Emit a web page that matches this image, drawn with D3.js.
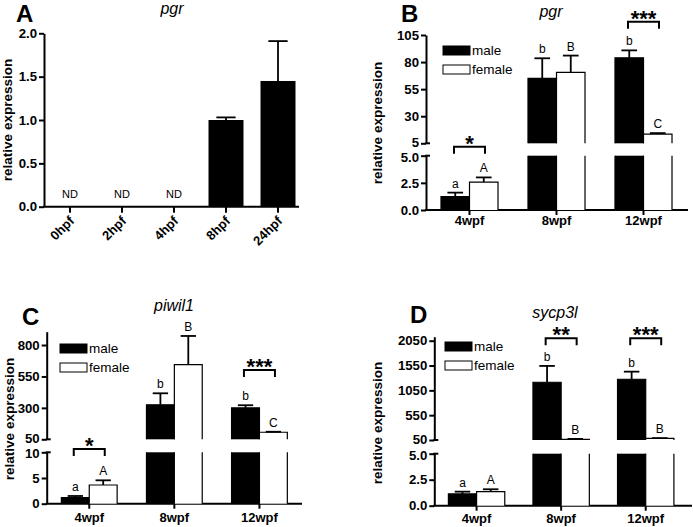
<!DOCTYPE html>
<html><head><meta charset="utf-8">
<script src="https://cdn.jsdelivr.net/npm/d3@7"></script>
<style>
body{margin:0;background:#fff}
text{font-family:"Liberation Sans",Arial,Helvetica,sans-serif;fill:#000}
</style>
</head><body>
<svg id="chart" width="693" height="527"></svg>
<script>
// ---------- DATA ----------
// Panel A (pgr, embryonic stages)
const catsA = ["0hpf","2hpf","4hpf","8hpf","24hpf"];
const valsA = [null,null,null,1.0,1.45];
const semA  = [null,null,null,0.03,0.46];
const ndA   = ["ND","ND","ND","",""];
const ticksA = [0,0.5,1.0,1.5,2.0];

// Shared for B, C, D
const catsWk = ["4wpf","8wpf","12wpf"];
const seriesNames = ["male","female"];

// Panel B (pgr)
const maleB = [1.23,65,84];      const semMaleB = [0.37,18.5,6.8];
const femaleB = [2.56,70.5,13.4]; const semFemaleB = [0.44,15.5,1.0];
const lettersMaleB = ["a","b","b"]; const lettersFemaleB = ["A","B","C"];
const sigCatsB = ["4wpf","12wpf"]; const sigTextB = ["*","***"];
const lowerTicksB = [0,2.5,5]; const upperTicksB = [5,30,55,80,105];

// Panel C (piwil1)
const maleC = [1.17,325,300];    const semMaleC = [0.33,91,21];
const femaleC = [3.64,644,106];  const semFemaleC = [0.91,228,4];
const lettersMaleC = ["a","b","b"]; const lettersFemaleC = ["A","B","C"];
const sigCatsC = ["4wpf","12wpf"]; const sigTextC = ["*","***"];
const lowerTicksC = [0,5,10]; const upperTicksC = [50,300,550,800];

// Panel D (sycp3l)
const maleD = [1.13,1213,1274];  const semMaleD = [0.22,329,153];
const femaleD = [1.35,64,84];    const semFemaleD = [0.23,8,4];
const lettersMaleD = ["a","b","b"]; const lettersFemaleD = ["A","B","B"];
const sigCatsD = ["8wpf","12wpf"]; const sigTextD = ["**","***"];
const lowerTicksD = [0,2.5,5]; const upperTicksD = [50,550,1050,1550,2050];

// ---------- DRAWING ----------
const svg = d3.select("#chart");
const FONT_TICK = 13.2, FONT_CAT = 13, FONT_AX = 13.5;

function styleAxis(sel){
  sel.select(".domain").attr("stroke","#000").attr("stroke-width",2);
  sel.selectAll(".tick line").attr("stroke","#000").attr("stroke-width",2);
  sel.selectAll(".tick text").attr("font-size",FONT_TICK).attr("font-weight","bold")
     .attr("font-family","Liberation Sans, Arial, sans-serif").attr("fill","#000");
}

function panelLetter(txt,x,y){
  svg.append("text").attr("x",x).attr("y",y).attr("font-size",24).attr("font-weight","bold").text(txt);
}
function title(txt,x,y){
  svg.append("text").attr("x",x).attr("y",y).attr("text-anchor","middle").attr("font-size",16)
     .attr("font-style","italic").text(txt);
}
function yTitle(x,y){
  svg.append("text").attr("transform",`translate(${x},${y}) rotate(-90)`).attr("text-anchor","middle")
     .attr("font-size",FONT_AX).attr("font-weight","bold").text("relative expression");
}

// ----- Panel A -----
(function(){
  const L = {x0:44, x1:304, axisEnd:299, yBase:206.7, yTop:33.3};
  const x = d3.scaleBand().domain(catsA).range([L.x0,L.x1]).paddingInner(0.327).paddingOuter(0.1635);
  const y = d3.scaleLinear().domain([0,2]).range([L.yBase,L.yTop]);
  const g = svg.append("g");
  g.append("g").attr("transform",`translate(${L.x0},0)`)
    .call(d3.axisLeft(y).tickValues(ticksA).tickFormat(d3.format(".1f")).tickSize(5).tickPadding(2).tickSizeOuter(0))
    .call(styleAxis);
  // x axis
  g.append("line").attr("x1",L.x0-1).attr("x2",L.axisEnd).attr("y1",L.yBase).attr("y2",L.yBase)
    .attr("stroke","#000").attr("stroke-width",2);
  const rows = catsA.map((c,i)=>({c,v:valsA[i],e:semA[i],nd:ndA[i]}));
  g.selectAll(".xt").data(rows).join("line")
    .attr("x1",d=>x(d.c)+x.bandwidth()/2).attr("x2",d=>x(d.c)+x.bandwidth()/2)
    .attr("y1",L.yBase).attr("y2",L.yBase+6).attr("stroke","#000").attr("stroke-width",2);
  g.selectAll(".xl").data(rows).join("text")
    .attr("transform",d=>`translate(${x(d.c)+x.bandwidth()/2+5},${L.yBase+15}) rotate(-45)`)
    .attr("text-anchor","end").attr("font-size",FONT_CAT).attr("font-weight","bold").text(d=>d.c);
  const bars = rows.filter(d=>d.v!=null);
  g.selectAll(".bar").data(bars).join("rect")
    .attr("x",d=>x(d.c)).attr("width",x.bandwidth())
    .attr("y",d=>y(d.v)).attr("height",d=>L.yBase-y(d.v)).attr("fill","#000");
  const cap = x.bandwidth()*0.55;
  bars.forEach(d=>{
    const cx = x(d.c)+x.bandwidth()/2;
    g.append("line").attr("x1",cx).attr("x2",cx).attr("y1",y(d.v)).attr("y2",y(d.v+d.e)).attr("stroke","#000").attr("stroke-width",1.8);
    g.append("line").attr("x1",cx-cap/2).attr("x2",cx+cap/2).attr("y1",y(d.v+d.e)).attr("y2",y(d.v+d.e)).attr("stroke","#000").attr("stroke-width",1.8);
  });
  g.selectAll(".nd").data(rows.filter(d=>d.nd)).join("text")
    .attr("x",d=>x(d.c)+x.bandwidth()/2).attr("y",L.yBase-9).attr("text-anchor","middle")
    .attr("font-size",11).text(d=>d.nd);
  panelLetter("A",16,22);
  title("pgr",172,14);
  yTitle(11.5,120);
})();

// ----- Broken-axis panels -----
function brokenPanel(L, D){
  const g = svg.append("g");
  const x = d3.scaleBand().domain(catsWk).range([L.x0,L.x1]);
  const xi = d3.scaleBand().domain(seriesNames).range([0,x.bandwidth()]).paddingOuter(L.outerPad);
  const yL = d3.scaleLinear().domain([0,D.lowerMax]).range([L.yBase,L.lowerTopY]);
  const yU = d3.scaleLinear().domain([D.upperMin,D.upperMax]).range([L.upperBotY,L.upperTopY]);

  const axL = g.append("g").attr("transform",`translate(${L.x0},0)`)
    .call(d3.axisLeft(yL).tickValues(D.lowerTicks).tickFormat(D.lowerFmt).tickSize(5).tickPadding(2).tickSizeOuter(0))
    .call(styleAxis);
  const axU = g.append("g").attr("transform",`translate(${L.x0},0)`)
    .call(d3.axisLeft(yU).tickValues(D.upperTicks).tickFormat(D.upperFmt).tickSize(5).tickPadding(2).tickSizeOuter(0))
    .call(styleAxis);
  // nudge the two labels at the break apart slightly
  axL.selectAll(".tick text").filter(d=>d===D.lowerMax).attr("dy","0.42em");
  axU.selectAll(".tick text").filter(d=>d===D.upperMin).attr("dy","0.25em");
  // break marks
  [L.lowerTopY, L.upperBotY].forEach(yy=>{
    g.append("line").attr("x1",L.x0-1).attr("x2",L.x0+4).attr("y1",yy).attr("y2",yy)
      .attr("stroke","#000").attr("stroke-width",2);
  });
  // x axis
  g.append("line").attr("x1",L.x0-1).attr("x2",L.axisEnd).attr("y1",L.yBase).attr("y2",L.yBase)
    .attr("stroke","#000").attr("stroke-width",2);
  catsWk.forEach(c=>{
    const cx = x(c)+x.bandwidth()/2;
    g.append("line").attr("x1",cx).attr("x2",cx).attr("y1",L.yBase).attr("y2",L.yBase+5)
      .attr("stroke","#000").attr("stroke-width",2);
    g.append("text").attr("x",cx).attr("y",L.yBase+L.xLabDy).attr("text-anchor","middle")
      .attr("font-size",FONT_CAT).attr("font-weight","bold").text(c);
  });

  const rows = [];
  catsWk.forEach((c,i)=>{
    rows.push({c,s:"male",v:D.male[i],e:D.semMale[i],lab:D.letMale[i]});
    rows.push({c,s:"female",v:D.female[i],e:D.semFemale[i],lab:D.letFemale[i]});
  });
  rows.forEach(d=>{
    const x0 = x(d.c)+xi(d.s), w = xi.bandwidth(), x1 = x0+w, cx = x0+w/2;
    const fill = d.s==="male" ? "#000" : "#fff";
    let topY, sc;
    if (d.v <= D.lowerMax){
      sc = yL; topY = yL(d.v);
      g.append("rect").attr("x",x0).attr("y",topY).attr("width",w).attr("height",L.yBase-topY).attr("fill",fill);
      g.append("path").attr("d",`M${x0},${L.yBase}V${topY}H${x1}V${L.yBase}`).attr("fill","none")
        .attr("stroke","#000").attr("stroke-width",1.2);
    } else {
      sc = yU; topY = yU(d.v);
      g.append("rect").attr("x",x0).attr("y",L.lowerTopY).attr("width",w).attr("height",L.yBase-L.lowerTopY).attr("fill",fill);
      g.append("path").attr("d",`M${x0},${L.yBase}V${L.lowerTopY}M${x1},${L.lowerTopY}V${L.yBase}`).attr("fill","none")
        .attr("stroke","#000").attr("stroke-width",1.2);
      g.append("rect").attr("x",x0).attr("y",topY).attr("width",w).attr("height",L.upperBotY-topY).attr("fill",fill);
      g.append("path").attr("d",`M${x0},${L.upperBotY}V${topY}H${x1}V${L.upperBotY}`).attr("fill","none")
        .attr("stroke","#000").attr("stroke-width",1.2);
    }
    const eY = sc(d.v+d.e), cap = w*0.55;
    g.append("line").attr("x1",cx).attr("x2",cx).attr("y1",topY).attr("y2",eY).attr("stroke","#000").attr("stroke-width",1.8);
    g.append("line").attr("x1",cx-cap/2).attr("x2",cx+cap/2).attr("y1",eY).attr("y2",eY).attr("stroke","#000").attr("stroke-width",1.8);
    g.append("text").attr("x",cx).attr("y",eY-5).attr("text-anchor","middle").attr("font-size",12).text(d.lab);
  });

  // significance brackets
  D.sigCats.forEach((c,i)=>{
    const cx = x(c)+x.bandwidth()/2, by = L.sigY[i], hw = 15.5;
    g.append("path").attr("d",`M${cx-hw},${by+7}V${by}H${cx+hw}V${by+7}`).attr("fill","none")
      .attr("stroke","#000").attr("stroke-width",2);
    g.append("text").attr("x",cx).attr("y",by+4).attr("text-anchor","middle").attr("font-size",22)
      .attr("font-weight","bold").text(D.sigText[i]);
  });

  // legend
  if (L.legend){
    seriesNames.forEach((s,i)=>{
      const ly = L.legend[1] + i*19;
      g.append("rect").attr("x",L.legend[0]).attr("y",ly).attr("width",27).attr("height",9)
        .attr("fill", s==="male" ? "#000" : "#fff").attr("stroke","#000").attr("stroke-width",1);
      g.append("text").attr("x",L.legend[0]+29).attr("y",ly+9).attr("font-size",13.5).text(s);
    });
  }
  panelLetter(L.letter, L.letterPos[0], L.letterPos[1]);
  title(D.title, L.titlePos[0], L.titlePos[1]);
  yTitle(L.yTitlePos[0], L.yTitlePos[1]);
}

brokenPanel(
  {x0:426,x1:687,axisEnd:688,yBase:210,lowerTopY:155.7,upperBotY:143.3,upperTopY:35,outerPad:0.526,
   xLabDy:15,sigY:[146.7,21.7],legend:[443,46],letter:"B",letterPos:[401,22],titlePos:[551,17],yTitlePos:[381.5,123]},
  {male:maleB,semMale:semMaleB,female:femaleB,semFemale:semFemaleB,letMale:lettersMaleB,letFemale:lettersFemaleB,
   sigCats:sigCatsB,sigText:sigTextB,lowerMax:5,upperMin:5,upperMax:105,lowerTicks:lowerTicksB,upperTicks:upperTicksB,
   lowerFmt:d3.format(".1f"),upperFmt:d3.format("d"),title:"pgr"}
);
brokenPanel(
  {x0:46.7,x1:302,axisEnd:302,yBase:503.7,lowerTopY:452.3,upperBotY:439.3,upperTopY:331.7,outerPad:0.526,
   xLabDy:18,sigY:[449,370],legend:[60,344],letter:"C",letterPos:[22,325],titlePos:[174,311],yTitlePos:[13.5,419]},
  {male:maleC,semMale:semMaleC,female:femaleC,semFemale:semFemaleC,letMale:lettersMaleC,letFemale:lettersFemaleC,
   sigCats:sigCatsC,sigText:sigTextC,lowerMax:10,upperMin:50,upperMax:906,lowerTicks:lowerTicksC,upperTicks:upperTicksC,
   lowerFmt:d3.format("d"),upperFmt:d3.format("d"),title:"piwil1"}
);
brokenPanel(
  {x0:434.3,x1:688,axisEnd:692,yBase:505.7,lowerTopY:453.7,upperBotY:440,upperTopY:336.7,outerPad:0.5,
   xLabDy:17,sigY:[338.3,338.3],legend:[445,342],letter:"D",letterPos:[410,323],titlePos:[555,318],yTitlePos:[381.5,423]},
  {male:maleD,semMale:semMaleD,female:femaleD,semFemale:semFemaleD,letMale:lettersMaleD,letFemale:lettersFemaleD,
   sigCats:sigCatsD,sigText:sigTextD,lowerMax:5,upperMin:50,upperMax:2131,lowerTicks:lowerTicksD,upperTicks:upperTicksD,
   lowerFmt:d3.format(".1f"),upperFmt:d3.format("d"),title:"sycp3l"}
);
</script>
</body></html>
